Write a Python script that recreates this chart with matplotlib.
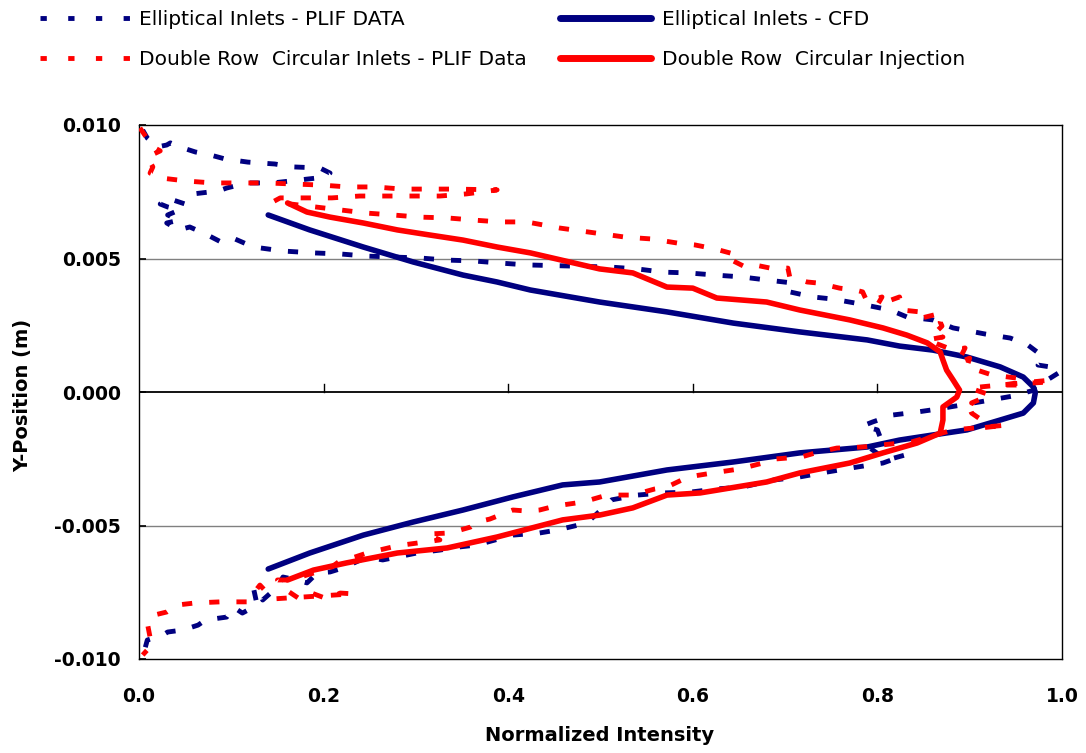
import numpy as np
import matplotlib
matplotlib.use("Agg")
import matplotlib.pyplot as plt
from matplotlib.lines import Line2D

# ---------------- data ----------------
xticks = [0.0, 0.2, 0.4, 0.6, 0.8, 1.0]
xtick_labels = ["0.0", "0.2", "0.4", "0.6", "0.8", "1.0"]
yticks = [-0.010, -0.005, 0.0, 0.005, 0.010]
ytick_labels = ["-0.010", "-0.005", "0.000", "0.005", "0.010"]

series_labels = [
    "Elliptical Inlets - PLIF DATA",
    "Elliptical Inlets - CFD",
    "Double Row  Circular Inlets - PLIF Data",
    "Double Row  Circular Injection",
]

# (normalized intensity, y-position [m])
elliptical_plif = [
    (0.004, 0.00981), (0.009, 0.00951), (0.020, 0.00918), (0.030, 0.00925), (0.034, 0.00933),
    (0.044, 0.00918), (0.061, 0.00899), (0.077, 0.00888), (0.093, 0.00873), (0.118, 0.00861),
    (0.147, 0.00854), (0.167, 0.00843), (0.196, 0.00839), (0.207, 0.00820), (0.202, 0.00805),
    (0.174, 0.00794), (0.145, 0.00783), (0.117, 0.00783), (0.095, 0.00764), (0.086, 0.00753),
    (0.059, 0.00742), (0.050, 0.00704), (0.037, 0.00719), (0.030, 0.00730), (0.023, 0.00704),
    (0.031, 0.00693), (0.044, 0.00682), (0.031, 0.00663), (0.044, 0.00644), (0.030, 0.00633),
    (0.043, 0.00607), (0.055, 0.00618), (0.072, 0.00592), (0.091, 0.00558), (0.104, 0.00573),
    (0.124, 0.00543), (0.156, 0.00528), (0.189, 0.00521), (0.218, 0.00517), (0.247, 0.00509),
    (0.304, 0.00502), (0.334, 0.00494), (0.362, 0.00491), (0.391, 0.00483), (0.420, 0.00476),
    (0.510, 0.00468), (0.540, 0.00461), (0.567, 0.00449), (0.595, 0.00446), (0.624, 0.00438),
    (0.653, 0.00431), (0.681, 0.00419), (0.709, 0.00408), (0.705, 0.00375), (0.730, 0.00356),
    (0.752, 0.00348), (0.781, 0.00330), (0.814, 0.00307), (0.832, 0.00281), (0.860, 0.00270),
    (0.882, 0.00240), (0.917, 0.00217), (0.944, 0.00202), (0.963, 0.00176), (0.973, 0.00150),
    (0.979, 0.00131), (0.974, 0.00101), (0.987, 0.00094), (0.987, 0.00071), (0.996, 0.00071),
    (0.984, 0.00045), (0.978, 0.00015), (0.947, -0.00015), (0.911, -0.00037), (0.865, -0.00064),
    (0.843, -0.00075), (0.817, -0.00086), (0.795, -0.00112), (0.784, -0.00127), (0.800, -0.00142),
    (0.803, -0.00169), (0.792, -0.00210), (0.810, -0.00255), (0.830, -0.00236), (0.806, -0.00266),
    (0.778, -0.00281), (0.745, -0.00300), (0.716, -0.00318), (0.687, -0.00330), (0.654, -0.00356),
    (0.626, -0.00363), (0.597, -0.00375), (0.568, -0.00378), (0.540, -0.00386), (0.512, -0.00404),
    (0.503, -0.00434), (0.485, -0.00491), (0.453, -0.00517), (0.434, -0.00528), (0.405, -0.00536),
    (0.366, -0.00573), (0.348, -0.00580), (0.326, -0.00592), (0.301, -0.00603), (0.280, -0.00618),
    (0.264, -0.00629), (0.247, -0.00618), (0.221, -0.00659), (0.207, -0.00674), (0.193, -0.00678),
    (0.182, -0.00715), (0.171, -0.00704), (0.156, -0.00693), (0.150, -0.00730), (0.134, -0.00779),
    (0.131, -0.00753), (0.124, -0.00734), (0.128, -0.00798), (0.112, -0.00828), (0.102, -0.00805),
    (0.095, -0.00843), (0.072, -0.00854), (0.064, -0.00873), (0.048, -0.00891), (0.031, -0.00899),
    (0.026, -0.00910), (0.009, -0.00929), (0.004, -0.00992),
]

elliptical_cfd = [
    (0.140, 0.00663), (0.185, 0.00607), (0.243, 0.00543), (0.297, 0.00487), (0.351, 0.00438),
    (0.388, 0.00412), (0.424, 0.00382), (0.499, 0.00337), (0.572, 0.00300), (0.644, 0.00258),
    (0.716, 0.00225), (0.789, 0.00195), (0.824, 0.00172), (0.860, 0.00157), (0.897, 0.00131),
    (0.933, 0.00094), (0.958, 0.00056), (0.969, 0.00019), (0.971, -0.00004), (0.969, -0.00041),
    (0.958, -0.00079), (0.933, -0.00105), (0.897, -0.00142), (0.860, -0.00161), (0.824, -0.00180),
    (0.789, -0.00206), (0.716, -0.00228), (0.644, -0.00262), (0.572, -0.00292), (0.499, -0.00337),
    (0.459, -0.00348), (0.405, -0.00393), (0.351, -0.00442), (0.297, -0.00487), (0.243, -0.00536),
    (0.185, -0.00603), (0.140, -0.00663),
]

double_row_plif = [
    (0.001, 0.00989), (0.004, 0.00974), (0.015, 0.00918), (0.023, 0.00903), (0.009, 0.00880),
    (0.015, 0.00843), (0.012, 0.00820), (0.025, 0.00801), (0.052, 0.00790), (0.080, 0.00783),
    (0.109, 0.00783), (0.139, 0.00783), (0.167, 0.00779), (0.198, 0.00775), (0.226, 0.00768),
    (0.256, 0.00768), (0.285, 0.00760), (0.313, 0.00760), (0.342, 0.00760), (0.388, 0.00757),
    (0.355, 0.00742), (0.326, 0.00734), (0.297, 0.00734), (0.269, 0.00734), (0.239, 0.00734),
    (0.209, 0.00727), (0.180, 0.00727), (0.153, 0.00727), (0.145, 0.00712), (0.247, 0.00670),
    (0.275, 0.00663), (0.304, 0.00655), (0.334, 0.00652), (0.362, 0.00644), (0.391, 0.00637),
    (0.420, 0.00637), (0.456, 0.00614), (0.510, 0.00588), (0.527, 0.00580), (0.556, 0.00573),
    (0.583, 0.00558), (0.602, 0.00551), (0.624, 0.00536), (0.640, 0.00521), (0.648, 0.00513),
    (0.642, 0.00494), (0.657, 0.00468), (0.667, 0.00476), (0.684, 0.00464), (0.703, 0.00464),
    (0.705, 0.00431), (0.724, 0.00412), (0.736, 0.00408), (0.759, 0.00389), (0.776, 0.00382),
    (0.784, 0.00375), (0.789, 0.00337), (0.805, 0.00356), (0.800, 0.00326), (0.824, 0.00356),
    (0.827, 0.00307), (0.846, 0.00300), (0.843, 0.00273), (0.870, 0.00296), (0.868, 0.00262),
    (0.870, 0.00247), (0.860, 0.00213), (0.871, 0.00206), (0.854, 0.00195), (0.862, 0.00184),
    (0.882, 0.00157), (0.895, 0.00165), (0.887, 0.00109), (0.900, 0.00127), (0.897, 0.00094),
    (0.908, 0.00082), (0.924, 0.00064), (0.951, 0.00052), (0.958, 0.00026), (0.930, 0.00026),
    (0.984, 0.00037), (0.989, 0.00045), (0.900, 0.00015), (0.922, -0.00011), (0.917, -0.00019),
    (0.902, -0.00041), (0.909, -0.00049), (0.900, -0.00060), (0.902, -0.00079), (0.913, -0.00105),
    (0.911, -0.00135), (0.940, -0.00124), (0.882, -0.00142), (0.837, -0.00187), (0.814, -0.00195),
    (0.784, -0.00206), (0.756, -0.00210), (0.736, -0.00225), (0.718, -0.00243), (0.689, -0.00251),
    (0.676, -0.00266), (0.651, -0.00288), (0.622, -0.00303), (0.595, -0.00318), (0.572, -0.00356),
    (0.559, -0.00363), (0.535, -0.00386), (0.507, -0.00386), (0.481, -0.00412), (0.451, -0.00427),
    (0.434, -0.00442), (0.421, -0.00446), (0.405, -0.00442), (0.380, -0.00476), (0.366, -0.00487),
    (0.359, -0.00506), (0.337, -0.00528), (0.312, -0.00532), (0.326, -0.00554), (0.286, -0.00573),
    (0.275, -0.00580), (0.247, -0.00603), (0.234, -0.00618), (0.216, -0.00637), (0.209, -0.00655),
    (0.193, -0.00674), (0.164, -0.00704), (0.150, -0.00704), (0.158, -0.00738), (0.174, -0.00775),
    (0.187, -0.00753), (0.204, -0.00775), (0.218, -0.00753), (0.232, -0.00756), (0.145, -0.00775),
    (0.131, -0.00723), (0.117, -0.00786), (0.088, -0.00786), (0.061, -0.00790), (0.041, -0.00798),
    (0.030, -0.00824), (0.017, -0.00835), (0.009, -0.00865), (0.014, -0.00955), (0.009, -0.00966),
    (0.004, -0.00985),
]

double_row_cfd = [
    (0.161, 0.00708), (0.182, 0.00674), (0.207, 0.00655), (0.243, 0.00633), (0.280, 0.00607),
    (0.315, 0.00588), (0.351, 0.00569), (0.388, 0.00543), (0.424, 0.00521), (0.499, 0.00461),
    (0.535, 0.00446), (0.572, 0.00393), (0.600, 0.00389), (0.626, 0.00352), (0.680, 0.00337),
    (0.716, 0.00307), (0.770, 0.00270), (0.806, 0.00240), (0.832, 0.00213), (0.854, 0.00184),
    (0.868, 0.00150), (0.871, 0.00120), (0.875, 0.00082), (0.882, 0.00045), (0.889, 0.00007),
    (0.886, -0.00019), (0.871, -0.00056), (0.871, -0.00105), (0.868, -0.00154), (0.843, -0.00191),
    (0.806, -0.00228), (0.770, -0.00266), (0.716, -0.00303), (0.680, -0.00337), (0.608, -0.00378),
    (0.572, -0.00386), (0.535, -0.00434), (0.499, -0.00461), (0.459, -0.00479), (0.388, -0.00543),
    (0.334, -0.00584), (0.280, -0.00603), (0.225, -0.00640), (0.189, -0.00667), (0.161, -0.00704),
]

# ---------------- figure ----------------
W, H = 1086, 753
fig = plt.figure(figsize=(W / 100, H / 100), dpi=100)
ax = fig.add_axes([139 / W, 1 - 659 / H, 923 / W, 534 / H])

NAVY = "#000080"
RED = "#FF0000"
DASH = (0, (2.1, 3.5))
PLIF_LW = 3.5
CFD_LW = 4.0

ep = np.array(elliptical_plif).T
ec = np.array(elliptical_cfd).T
dp = np.array(double_row_plif).T
dc = np.array(double_row_cfd).T

ax.plot(ep[0], ep[1], color=NAVY, lw=PLIF_LW, linestyle=DASH, dash_capstyle="butt", zorder=3)
ax.plot(ec[0], ec[1], color=NAVY, lw=CFD_LW, solid_capstyle="round", solid_joinstyle="round", zorder=4)
ax.plot(dp[0], dp[1], color=RED, lw=PLIF_LW, linestyle=DASH, dash_capstyle="butt", zorder=5)
ax.plot(dc[0], dc[1], color=RED, lw=CFD_LW, solid_capstyle="round", solid_joinstyle="round", zorder=6)

ax.set_xlim(0, 1)
ax.set_ylim(-0.010, 0.010)

tick_font = dict(family="DejaVu Sans", weight="bold", size=13.5)
ax.set_xticks(xticks)
ax.set_xticklabels(xtick_labels, fontdict=tick_font)
ax.tick_params(axis="x", length=0, pad=20)
ax.set_yticks(yticks)
ax.set_yticklabels(ytick_labels, fontdict=tick_font)
ax.tick_params(axis="y", direction="in", length=5, width=1.2, pad=13)

for s in ax.spines.values():
    s.set_color("black")
    s.set_linewidth(1.0)

# gridlines and zero axis with upward tick marks
for yv in yticks[1:-1]:
    if yv != 0:
        ax.axhline(yv, color="#808080", lw=1.0, zorder=1)
ax.axhline(0, color="black", lw=1.3, zorder=2)
tick_h = 0.0003
for t in xticks[1:-1]:
    ax.plot([t, t], [0, tick_h], color="black", lw=1.0, zorder=2)

fig.text(600 / W, 1 - 741 / H, "Normalized Intensity", ha="center", va="baseline",
         family="DejaVu Sans", weight="bold", size=14)
fig.text(23 / W, 1 - 395 / H, "Y-Position (m)", ha="center", va="center", rotation=90,
         family="DejaVu Sans", weight="bold", size=14)

# ---------------- legend ----------------
leg_dash = (0, (1.3, 4.4))
h_ep = Line2D([], [], color=NAVY, lw=PLIF_LW, linestyle=leg_dash, dash_capstyle="butt")
h_ec = Line2D([], [], color=NAVY, lw=5.0, solid_capstyle="round")
h_dp = Line2D([], [], color=RED, lw=PLIF_LW, linestyle=leg_dash, dash_capstyle="butt")
h_dc = Line2D([], [], color=RED, lw=5.0, solid_capstyle="round")
leg_prop = dict(family="DejaVu Sans", size=14.5)
common = dict(loc="upper left", frameon=False, borderpad=0, handlelength=4.5,
              labelspacing=1.02, prop=leg_prop)
fig.legend([h_ep, h_dp], [series_labels[0], series_labels[2]],
           bbox_to_anchor=(30 / W, 1.0), handletextpad=0.4, **common)
fig.legend([h_ec, h_dc], [series_labels[1], series_labels[3]],
           bbox_to_anchor=(550 / W, 1.0), handletextpad=0.55, **common)

fig.savefig("out.png", dpi=100)
